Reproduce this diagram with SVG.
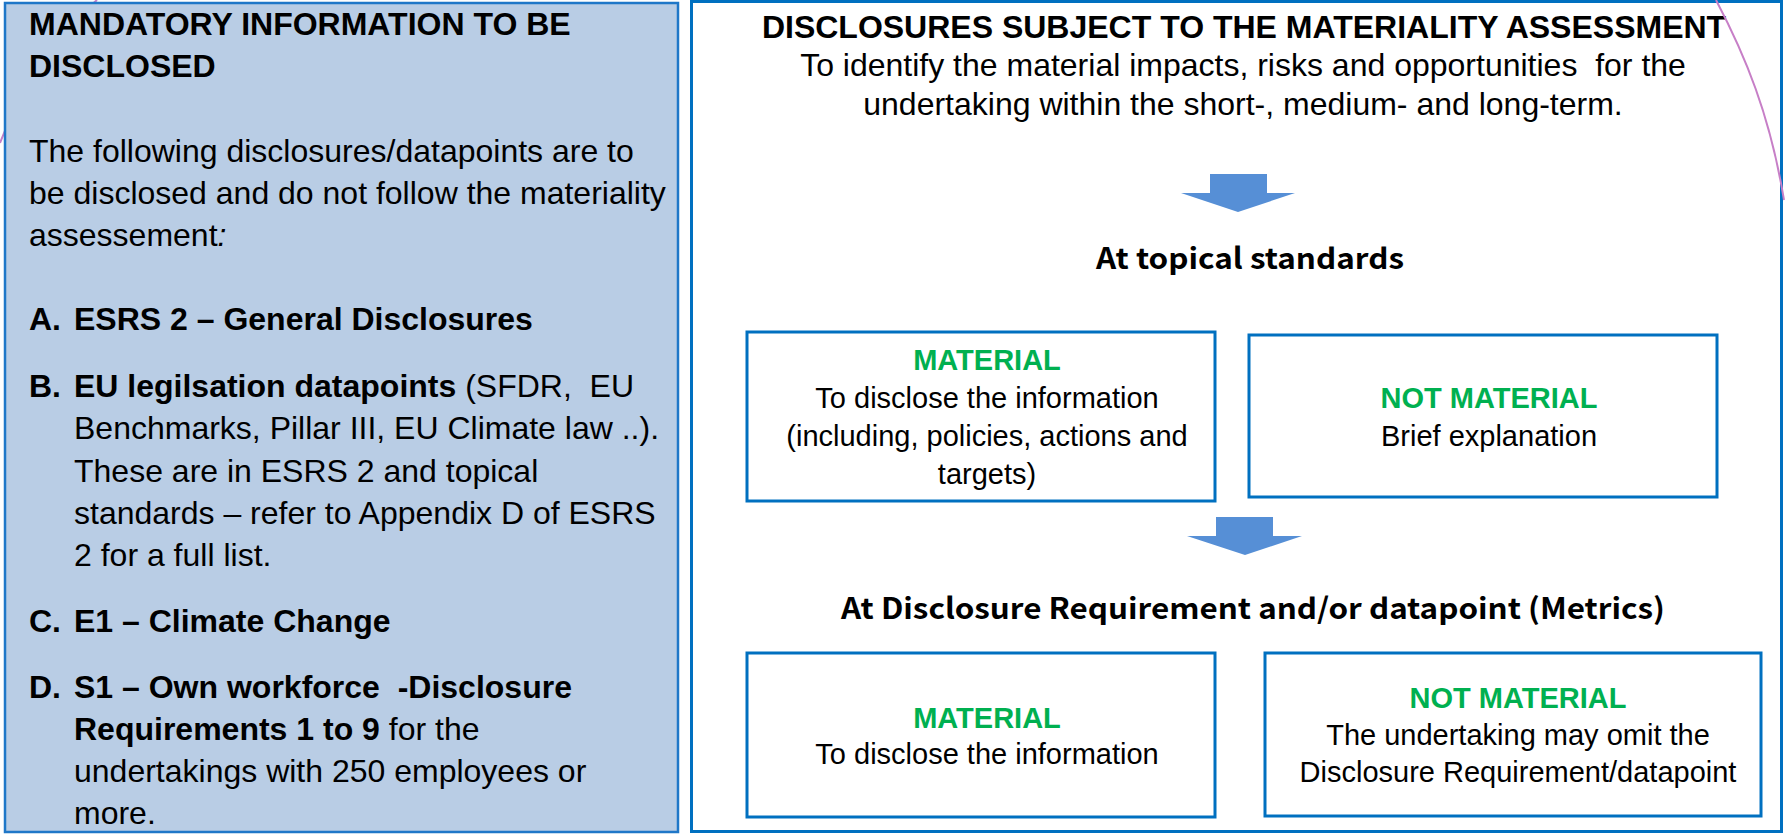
<svg xmlns="http://www.w3.org/2000/svg" width="1785" height="835" viewBox="0 0 1785 835">
<style>
.t{font-family:"Liberation Sans",Arial,sans-serif;fill:#000}
.l{font-size:32px}
.b{font-weight:bold}
.h{font-family:"Noto Sans CJK KR","Noto Sans",sans-serif;font-weight:bold;font-size:29px;fill:#000}
.box{fill:#fff;stroke:#0070c0;stroke-width:3}
.g{fill:#00b050;font-weight:bold}
.s{font-size:29px}
.arrow{fill:#568fd6}
.arc{fill:none;stroke:#c77fc7;stroke-width:2}
</style>
<rect width="1785" height="835" fill="#fff"/>
<path class="arc" d="M97,0 Q35,50 0,143"/>
<g id="mandatory">
<rect x="5" y="3" width="673" height="829" fill="#b9cde5" stroke="#1f77c8" stroke-width="2.5"/>
<text class="t l b" x="29" y="35">MANDATORY INFORMATION TO BE</text>
<text class="t l b" x="29" y="77">DISCLOSED</text>
<text class="t l" x="29" y="162">The following disclosures/datapoints are to</text>
<text class="t l" x="29" y="204">be disclosed and do not follow the materiality</text>
<text class="t l" x="29" y="246">assessement<tspan font-style="italic">:</tspan></text>
<text class="t l b" x="29" y="330">A.</text>
<text class="t l b" x="74" y="330">ESRS 2 – General Disclosures</text>
<text class="t l b" x="29" y="397">B.</text>
<text class="t l" x="74" y="397" xml:space="preserve"><tspan font-weight="bold">EU legilsation datapoints</tspan> (SFDR,  EU</text>
<text class="t l" x="74" y="439">Benchmarks, Pillar III, EU Climate law ..).</text>
<text class="t l" x="74" y="482">These are in ESRS 2 and topical</text>
<text class="t l" x="74" y="524">standards – refer to Appendix D of ESRS</text>
<text class="t l" x="74" y="566">2 for a full list.</text>
<text class="t l b" x="29" y="632">C.</text>
<text class="t l b" x="74" y="632">E1 – Climate Change</text>
<text class="t l b" x="29" y="698">D.</text>
<text class="t l b" x="74" y="698" xml:space="preserve">S1 – Own workforce  -Disclosure</text>
<text class="t l" x="74" y="740"><tspan font-weight="bold">Requirements 1 to 9</tspan> for the</text>
<text class="t l" x="74" y="782">undertakings with 250 employees or</text>
<text class="t l" x="74" y="824">more.</text>
</g>
<g id="assessment">
<rect x="691.5" y="1.5" width="1090" height="830" fill="none" stroke="#0070c0" stroke-width="3"/>
<text class="t l b" x="1244" y="38" text-anchor="middle">DISCLOSURES SUBJECT TO THE MATERIALITY ASSESSMENT</text>
<text class="t l" x="1243" y="76" text-anchor="middle" xml:space="preserve">To identify the material impacts, risks and opportunities  for the</text>
<text class="t l" x="1243" y="115" text-anchor="middle">undertaking within the short-, medium- and long-term.</text>
</g>
<path class="arc" d="M1716,0 C1745,55 1770,115 1784,200"/>
<g id="topical">
<text class="h" x="1250" y="269" text-anchor="middle" textLength="308" lengthAdjust="spacingAndGlyphs">At topical standards</text>
</g>
<g id="material1">
<rect class="box" x="747" y="332" width="468" height="169"/>
<text class="t s g" x="987" y="370" text-anchor="middle">MATERIAL</text>
<text class="t s" x="987" y="408" text-anchor="middle">To disclose the information</text>
<text class="t s" x="987" y="446" text-anchor="middle">(including, policies, actions and</text>
<text class="t s" x="987" y="484" text-anchor="middle">targets)</text>
</g>
<g id="notmaterial1">
<rect class="box" x="1249" y="335" width="468" height="162"/>
<text class="t s g" x="1489" y="408" text-anchor="middle">NOT MATERIAL</text>
<text class="t s" x="1489" y="446" text-anchor="middle">Brief explanation</text>
</g>
<g id="metrics">
<text class="h" x="1253" y="619" text-anchor="middle" textLength="824" lengthAdjust="spacingAndGlyphs">At Disclosure Requirement and/or datapoint (Metrics)</text>
</g>
<g id="material2">
<rect class="box" x="747" y="653" width="468" height="164"/>
<text class="t s g" x="987" y="728" text-anchor="middle">MATERIAL</text>
<text class="t s" x="987" y="764" text-anchor="middle">To disclose the information</text>
</g>
<g id="notmaterial2">
<rect class="box" x="1265" y="653" width="496" height="163"/>
<text class="t s g" x="1518" y="708" text-anchor="middle">NOT MATERIAL</text>
<text class="t s" x="1518" y="745" text-anchor="middle">The undertaking may omit the</text>
<text class="t s" x="1518" y="782" text-anchor="middle">Disclosure Requirement/datapoint</text>
</g>
<g id="connectors">
<polygon class="arrow" points="1210,174 1267,174 1267,193 1295,193 1238,212 1181,193 1210,193"/>
<polygon class="arrow" points="1216,517 1273,517 1273,536 1302,536 1245,555 1187,536 1216,536"/>
</g>
</svg>
